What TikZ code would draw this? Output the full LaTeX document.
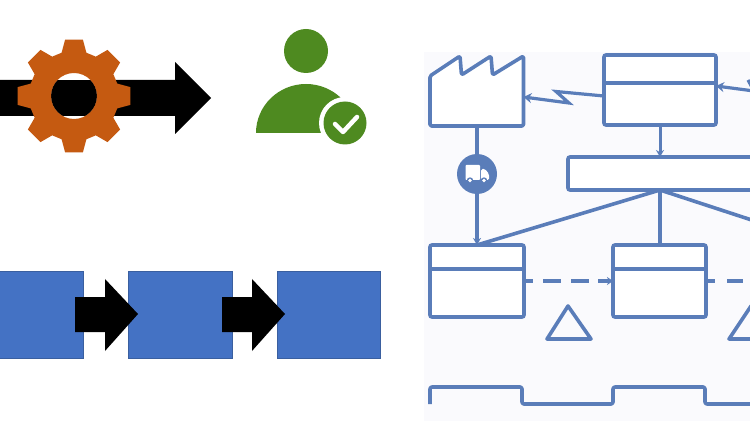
\documentclass[tikz,border=0pt]{standalone}
\usetikzlibrary{arrows.meta}
\definecolor{vsm}{HTML}{5A7DB9}
\definecolor{panel}{HTML}{FAFAFD}
\definecolor{gearc}{HTML}{C55A11}
\definecolor{userc}{HTML}{4E8A20}
\definecolor{procblue}{HTML}{4472C4}
\definecolor{procedge}{HTML}{3A5F9F}
\tikzset{
  vsmline/.style={draw=vsm,line width=3.6pt,line join=round},
  vsmbox/.style={draw=vsm,fill=white,line width=3.6pt,rounded corners=2pt,inner sep=0pt,outer sep=0pt,anchor=north west},
  vsmdiv/.style={draw=vsm,line width=3.4pt},
  vsmarrow/.style={vsmline,-{Stealth[length=7pt,width=8pt]}},
  procbox/.style={draw=procedge,fill=procblue,line width=1pt,inner sep=0pt,outer sep=0pt,anchor=north west},
  blockarrow/.style={fill=black,draw=none},
}
\begin{document}
\begin{tikzpicture}[x=1pt,y=-1pt]
\useasboundingbox (0,0) rectangle (750,422);
\fill[white] (0,0) rectangle (750,422);
% value stream map panel
\fill[panel] (424,52) rectangle (750,421);

% big arrow and gear
\fill[blockarrow] (-2,80) -- (175,80) -- (175,62) -- (211,98) -- (175,134) -- (175,116) -- (-2,116) -- cycle;
\fill[white] (74,96) circle (23);
\begin{scope}
  \clip (74,96) circle (23);
  \fill[black] (40,80) rectangle (110,116);
\end{scope}
\fill[gearc,even odd rule]
  ({74+45*cos(-16)},{96+45*sin(-16)})
  \foreach \a in {0,45,...,315} {
    -- ({74+57*cos(\a-9)},{96+57*sin(\a-9)})
    -- ({74+57*cos(\a+9)},{96+57*sin(\a+9)})
    -- ({74+45*cos(\a+16)},{96+45*sin(\a+16)})
    -- ({74+45*cos(\a+29)},{96+45*sin(\a+29)})
  } -- cycle
  (74,96) circle (23);

% user with check mark
\fill[userc] (306,51) circle (22);
\fill[userc] (256,133) arc[start angle=180,end angle=0,x radius=50,y radius=-49] -- cycle;
\fill[white] (345,123) circle (26);
\fill[userc] (345,123) circle (21.5);
\draw[white,line width=4.5pt,line cap=round,line join=round] (335,124) -- (343,132) -- (357,117);

% process boxes and arrows
\node[procbox,minimum width=85pt,minimum height=86pt] (p1) at (-2,272) {};
\node[procbox,minimum width=104pt,minimum height=86pt] (p2) at (128,272) {};
\node[procbox,minimum width=103pt,minimum height=86pt] (p3) at (277,272) {};
\fill[blockarrow] (75,297) -- (105,297) -- (105,279) -- (138,314) -- (105,351) -- (105,332) -- (75,332) -- cycle;
\fill[blockarrow] (222,297) -- (252,297) -- (252,279) -- (285,314) -- (252,351) -- (252,332) -- (222,332) -- cycle;

% factory
\draw[vsmline,fill=white,rounded corners=1.5pt] (430,76) -- (460,56) -- (461.5,75) -- (491,56) -- (492.5,75) -- (523.5,56) -- (523.5,126) -- (430,126) -- cycle;
\coordinate (factoryBottom) at (477,126);
\coordinate (factoryRight) at (523.5,97);

% control box
\node[vsmbox,minimum width=112pt,minimum height=70pt] (ctrl) at (604,55) {};
\draw[vsmdiv] (604,83) -- (716,83);
% scheduling box
\node[vsmbox,minimum width=200pt,minimum height=33pt] (sched) at (568,157) {};
% process boxes
\node[vsmbox,minimum width=94pt,minimum height=72pt] (b1) at (430,245) {};
\draw[vsmdiv] (430,269) -- (524,269);
\node[vsmbox,minimum width=93pt,minimum height=72pt] (b2) at (613,245) {};
\draw[vsmdiv] (613,269) -- (706,269);

% truck
\node[circle,fill=vsm,minimum size=40pt,inner sep=0pt,outer sep=0pt] (truck) at (477,174) {};
\fill[white,rounded corners=0.8pt] (465.5,165) rectangle (480,180);
\fill[white,rounded corners=1.5pt] (481,169) -- (485,169) -- (489,174) -- (489,180) -- (481,180) -- cycle;
\fill[vsm] (470,180.5) circle (3.2) (484,180.5) circle (3.2);
\fill[white] (470,180.5) circle (1.9) (484,180.5) circle (1.9);

% connectors
\draw[vsmline] (factoryBottom) -- (truck);
\draw[vsmarrow] (truck) -- (477,245);
\coordinate (b1top) at (477,245);
\coordinate (schedBottom) at (660,190);
\coordinate (ctrlBottom) at (660,125);
\draw[vsmarrow,line width=3pt] (ctrlBottom) -- (660,157);
\draw[vsmline] (schedBottom) -- (b1top);
\draw[vsmline] (schedBottom) -- (660,245);
\coordinate (offRight) at (770,226);
\draw[vsmline] (schedBottom) -- (offRight);
% electronic links
\coordinate (ctrlLeft) at (604,96);
\draw[vsmline,line width=3.2pt,-{Stealth[length=8pt,width=10pt]},line join=miter] (ctrlLeft) -- (556,91.5) -- (569,103) -- (factoryRight);
\coordinate (ctrlRight) at (716,86);
\draw[vsmline,line width=3.2pt,-{Stealth[length=8pt,width=10pt]},line join=miter] (748,80) -- (754,91) -- (ctrlRight);
% information flow between boxes
\draw[vsmline,dash pattern=on 9pt off 10pt on 18pt off 10pt on 18pt off 9pt on 15pt,-{Stealth[length=6pt,width=8pt]}] (524,281) -- (613,281);
\draw[vsmline,dash pattern=on 9pt off 12pt on 16pt off 30pt] (706,281) -- (752,281);
% inventory triangles
\draw[vsmline] (568,306) -- (591,339) -- (547,339) -- cycle;
\draw[vsmline] (751,306) -- (773,339) -- (729,339) -- cycle;
% timeline
\draw[vsmline,rounded corners=2pt] (430,404) -- (430,387) -- (522,387) -- (522,404) -- (613,404) -- (613,387) -- (705,387) -- (705,404) -- (752,404);
\end{tikzpicture}
\end{document}
